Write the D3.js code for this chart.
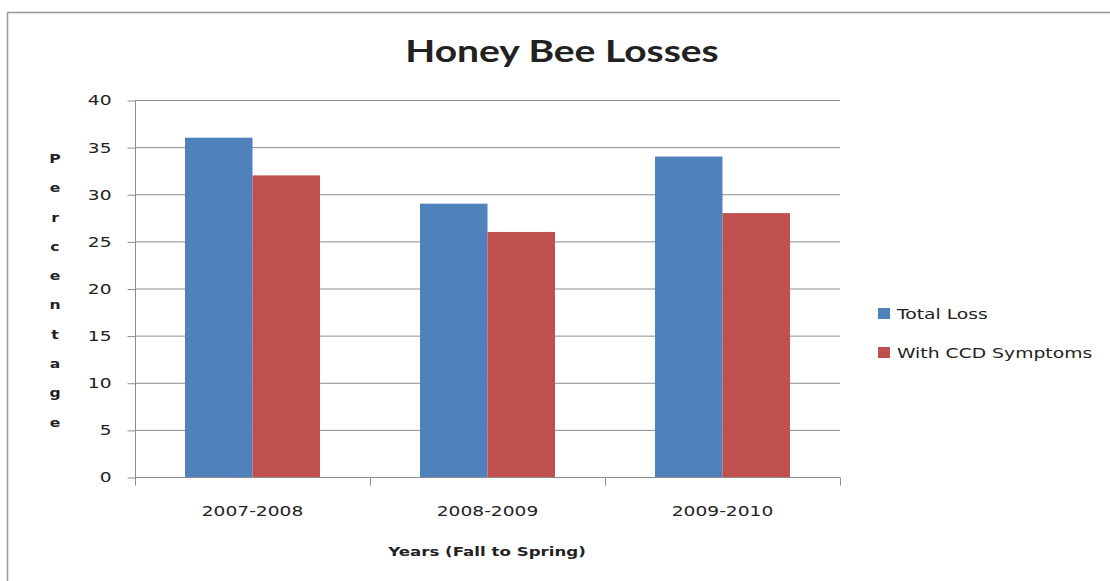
<!DOCTYPE html>
<html>
<head>
<meta charset="utf-8">
<script src="https://cdn.jsdelivr.net/npm/d3@7"></script>
<style>
  body { margin: 0; background: #fff; }
  svg text { font-family: "DejaVu Sans", Verdana, sans-serif; fill: #222; }
</style>
</head>
<body>
<svg id="chart" width="1110" height="581"></svg>
<script>
// data
const years = ["2007-2008", "2008-2009", "2009-2010"];
const seriesNames = ["Total Loss", "With CCD Symptoms"];
const totalLoss = [36, 29, 34];
const withCCD = [32, 26, 28];
const yTicks = [0, 5, 10, 15, 20, 25, 30, 35, 40];
const colors = ["#4F81BD", "#C0504D"];

const svg = d3.select("#chart");

// the source image is stretched sideways, so text is widened around its anchor
const stretchX = 1.33;
function stretch(sel, sx = stretchX) {
    sel.each(function() {
        const t = d3.select(this);
        const tx = +t.attr("x") || 0, ty = +t.attr("y") || 0;
        t.attr("transform", `translate(${tx},${ty}) scale(${sx},1) translate(${-tx},${-ty})`);
    });
}

// outer chart frame (runs off the right / bottom edge in the original)
svg.append("rect")
    .attr("x", 7.5).attr("y", 12.5)
    .attr("width", 1120).attr("height", 600)
    .attr("fill", "none")
    .attr("stroke", "#9a9a9a")
    .attr("stroke-width", 1.5);

// plot area
const plotLeft = 135, plotRight = 840, plotTop = 100, plotBottom = 477;

const x = d3.scaleBand()
    .domain(years)
    .range([plotLeft, plotRight])
    .paddingInner(0)
    .paddingOuter(0);

const y = d3.scaleLinear()
    .domain([0, 40])
    .range([plotBottom, plotTop]);

// bars take the middle part of each category
const groupPad = 50;
const xs = d3.scaleBand()
    .domain(seriesNames)
    .range([groupPad, x.bandwidth() - groupPad]);

// gridlines
svg.append("g")
    .selectAll("line")
    .data(yTicks.filter(d => d > 0))
    .join("line")
    .attr("x1", plotLeft).attr("x2", plotRight)
    .attr("y1", d => y(d) + 0.5).attr("y2", d => y(d) + 0.5)
    .attr("stroke", "#8c8c8c")
    .attr("stroke-width", 1);

// bars
const rows = years.map((yr, i) => ({year: yr, vals: [totalLoss[i], withCCD[i]]}));
const groups = svg.append("g")
    .selectAll("g")
    .data(rows)
    .join("g")
    .attr("transform", d => `translate(${x(d.year)},0)`);

groups.selectAll("rect")
    .data(d => d.vals.map((v, j) => ({name: seriesNames[j], value: v, j: j})))
    .join("rect")
    .attr("x", d => xs(d.name))
    .attr("width", xs.bandwidth())
    .attr("y", d => y(d.value))
    .attr("height", d => y(0) - y(d.value))
    .attr("fill", d => colors[d.j]);

// y axis
const yAxis = d3.axisLeft(y)
    .tickValues(yTicks)
    .tickSize(8)
    .tickPadding(16);
const gy = svg.append("g")
    .attr("transform", `translate(${plotLeft + 0.5},0.5)`)
    .call(yAxis);
gy.select(".domain").attr("stroke", "#8c8c8c").attr("d", `M0,${plotTop}V${plotBottom}`);
gy.selectAll(".tick line").attr("stroke", "#8c8c8c");
gy.selectAll(".tick text").style("font-size", "14px").attr("fill", "#222").call(stretch);

// x axis, ticks sit at category boundaries
const xAxis = d3.axisBottom(x)
    .tickSize(0)
    .tickPadding(29);
const gx = svg.append("g")
    .attr("transform", `translate(0,${plotBottom + 0.5})`)
    .call(xAxis);
gx.select(".domain").attr("stroke", "#8c8c8c").attr("d", `M${plotLeft},0H${plotRight}`);
gx.selectAll(".tick text").style("font-size", "14px").attr("fill", "#222").call(stretch);
gx.selectAll(".bound")
    .data(d3.range(years.length + 1))
    .join("line")
    .attr("class", "bound")
    .attr("x1", i => plotLeft + i * x.bandwidth() + 0.5)
    .attr("x2", i => plotLeft + i * x.bandwidth() + 0.5)
    .attr("y1", 0).attr("y2", 8)
    .attr("stroke", "#8c8c8c");

// title
svg.append("text")
    .attr("x", 562).attr("y", 62)
    .attr("text-anchor", "middle")
    .style("font-family", "Lato, 'Open Sans', sans-serif")
    .style("font-weight", "bold")
    .style("font-size", "30px")
    .attr("fill", "#000")
    .text("Honey Bee Losses")
    .call(stretch, 1.3);

// x axis title
svg.append("text")
    .attr("x", 487).attr("y", 556)
    .attr("text-anchor", "middle")
    .style("font-weight", "bold")
    .style("font-size", "13px")
    .text("Years (Fall  to Spring)")
    .call(stretch, 1.28);

// y axis title, one letter per line
const yTitle = "Percentage".split("");
const letterStep = 29.3;
svg.append("g")
    .selectAll("text")
    .data(yTitle)
    .join("text")
    .attr("x", 55)
    .attr("y", (d, i) => 163 + i * letterStep)
    .attr("text-anchor", "middle")
    .style("font-weight", "bold")
    .style("font-size", "13px")
    .text(d => d)
    .call(stretch, 1.2);

// legend
const legend = svg.append("g")
    .selectAll("g")
    .data(seriesNames)
    .join("g")
    .attr("transform", (d, i) => `translate(878,${308 + i * 39})`);
legend.append("rect")
    .attr("width", 12).attr("height", 11)
    .attr("fill", (d, i) => colors[i]);
legend.append("text")
    .attr("x", 19).attr("y", 11)
    .style("font-size", "14px")
    .text(d => d)
    .call(stretch, 1.34);
</script>
</body>
</html>
